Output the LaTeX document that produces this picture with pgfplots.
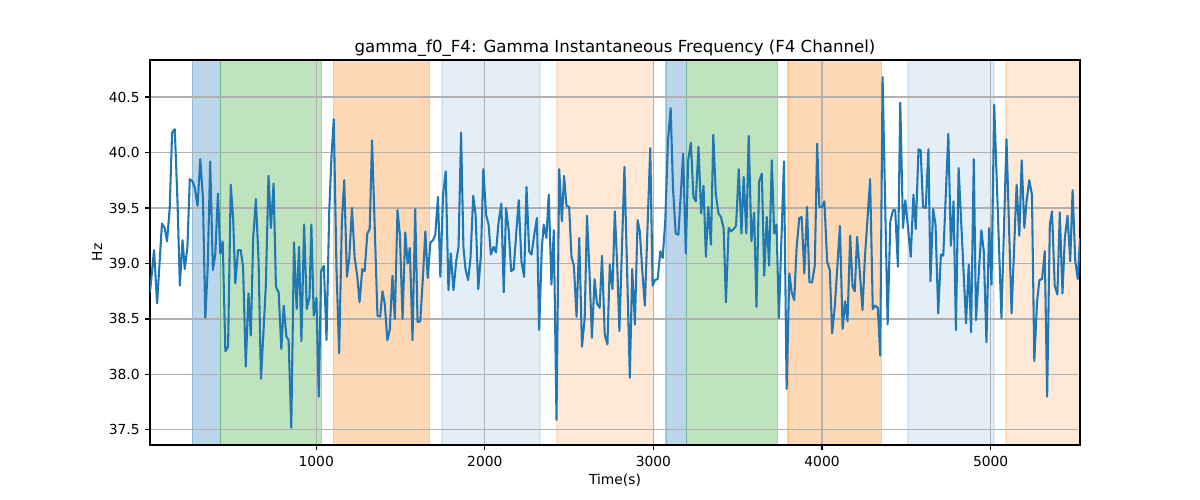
\documentclass[border=0pt]{standalone}
\usepackage{fontspec}
\setmainfont{DejaVu Sans}
\usepackage{pgfplots}
\pgfplotsset{compat=1.18}
\definecolor{tabblue}{HTML}{1F77B4}
\definecolor{taborange}{HTML}{FF7F0E}
\definecolor{tabgreen}{HTML}{2CA02C}
\definecolor{gridgray}{HTML}{B0B0B0}
\begin{document}
\begin{tikzpicture}
\path (0,0) rectangle (12in,5in);
\begin{axis}[
  set layers,
  at={(1.5in,0.55in)}, anchor=south west,
  scale only axis, width=9.3in, height=3.85in,
  xmin=14, xmax=5530, ymin=37.364, ymax=40.834,
  xtick={1000,2000,3000,4000,5000},
  ytick={37.5,38,38.5,39,39.5,40,40.5},
  /pgf/number format/assume math mode=true,
  xticklabel style={/pgf/number format/1000 sep={}, anchor=north, inner sep=0pt, yshift=-4.2pt},
  yticklabel style={/pgf/number format/fixed, /pgf/number format/fixed zerofill, /pgf/number format/precision=1, anchor=east, inner sep=0pt, xshift=-3.8pt},
  xtick pos=bottom, ytick pos=left,
  tick align=outside, major tick length=3.5pt,
  tick style={black, line width=0.8pt},
  axis line style={black, line width=0.8pt},
  grid=major, major grid style={gridgray, line width=0.8pt},
  title={gamma\_f0\_F4: Gamma Instantaneous Frequency (F4 Channel)},
  title style={at={(axis description cs:0.5,1)}, anchor=base, inner sep=0pt, yshift=-0.5pt, font=\fontsize{12}{14.4}\selectfont},
  xlabel={Time(s)},
  xlabel style={at={(axis description cs:0.5,0)}, anchor=north, inner sep=0pt, yshift=-21pt},
  ylabel={Hz},
  ylabel style={at={(axis description cs:0,0.5)}, anchor=center, inner sep=0pt, yshift=38.2pt},
]
% shaded spans
\addplot[on layer=axis background, fill=tabblue, fill opacity=0.3, draw=tabblue, draw opacity=0.3, line width=1pt] coordinates {(264.5,37.364) (430.6,37.364) (430.6,40.834) (264.5,40.834) (264.5,37.364)};
\addplot[on layer=axis background, fill=tabgreen, fill opacity=0.3, draw=tabgreen, draw opacity=0.3, line width=1pt] coordinates {(430.6,37.364) (1032,37.364) (1032,40.834) (430.6,40.834) (430.6,37.364)};
\addplot[on layer=axis background, fill=taborange, fill opacity=0.3, draw=taborange, draw opacity=0.3, line width=1pt] coordinates {(1101,37.364) (1672.6,37.364) (1672.6,40.834) (1101,40.834) (1101,37.364)};
\addplot[on layer=axis background, fill=tabblue, fill opacity=0.12, draw=tabblue, draw opacity=0.12, line width=1pt] coordinates {(1745.5,37.364) (2327,37.364) (2327,40.834) (1745.5,40.834) (1745.5,37.364)};
\addplot[on layer=axis background, fill=taborange, fill opacity=0.17, draw=taborange, draw opacity=0.17, line width=1pt] coordinates {(2427.6,37.364) (3001,37.364) (3001,40.834) (2427.6,40.834) (2427.6,37.364)};
\addplot[on layer=axis background, fill=tabblue, fill opacity=0.3, draw=tabblue, draw opacity=0.3, line width=1pt] coordinates {(3074,37.364) (3197,37.364) (3197,40.834) (3074,40.834) (3074,37.364)};
\addplot[on layer=axis background, fill=tabgreen, fill opacity=0.3, draw=tabgreen, draw opacity=0.3, line width=1pt] coordinates {(3197,37.364) (3737,37.364) (3737,40.834) (3197,40.834) (3197,37.364)};
\addplot[on layer=axis background, fill=taborange, fill opacity=0.3, draw=taborange, draw opacity=0.3, line width=1pt] coordinates {(3798,37.364) (4353.5,37.364) (4353.5,40.834) (3798,40.834) (3798,37.364)};
\addplot[on layer=axis background, fill=tabblue, fill opacity=0.12, draw=tabblue, draw opacity=0.12, line width=1pt] coordinates {(4509.5,37.364) (5019.6,37.364) (5019.6,40.834) (4509.5,40.834) (4509.5,37.364)};
\addplot[on layer=axis background, fill=taborange, fill opacity=0.17, draw=taborange, draw opacity=0.17, line width=1pt] coordinates {(5090.7,37.364) (5530,37.364) (5530,40.834) (5090.7,40.834) (5090.7,37.364)};
% series
\addplot[tabblue, line width=1.5pt, line join=round, mark=none] table {
x y
14 38.74
38 39.12
56 38.64
85 39.36
101 39.32
115 39.20
131 39.50
145 40.18
161 40.21
177 39.56
191 38.80
207 39.21
220 38.95
236 39.15
250 39.76
266 39.74
280 39.68
296 39.52
312 39.94
328 39.59
342 38.51
356 38.95
371 39.92
387 38.94
401 39.08
417 39.63
431 39.09
445 39.20
461 38.21
477 38.25
493 39.71
507 39.41
520 38.82
536 39.12
552 39.12
566 38.97
582 38.07
598 38.73
612 38.35
626 39.23
642 39.58
658 39.02
672 37.96
687 38.38
701 38.80
717 39.79
731 39.32
747 39.72
761 38.79
777 38.74
793 38.23
807 38.62
823 38.34
836 38.31
852 37.52
868 39.19
884 38.59
898 39.15
912 38.30
928 39.35
944 38.59
960 38.70
971 39.35
985 38.53
1001 38.69
1015 37.80
1029 38.93
1045 38.98
1061 38.31
1077 39.47
1091 39.98
1104 40.30
1120 38.95
1136 38.19
1152 39.38
1166 39.75
1182 38.88
1196 39.05
1212 39.50
1228 39.05
1243 38.89
1257 38.65
1273 38.95
1287 38.93
1303 39.27
1317 39.31
1331 40.11
1347 39.32
1363 38.53
1379 38.52
1393 38.75
1406 38.64
1422 38.31
1436 38.40
1452 38.89
1466 38.50
1482 39.48
1496 39.26
1512 38.50
1528 39.28
1542 39.00
1555 39.14
1571 38.31
1587 39.49
1601 38.47
1617 38.48
1631 38.83
1647 39.29
1661 38.87
1677 39.19
1693 39.21
1706 39.26
1722 39.60
1736 38.88
1752 39.62
1768 39.83
1784 38.76
1798 39.09
1814 38.76
1830 39.02
1844 39.15
1859 40.18
1873 39.15
1885 38.95
1901 38.85
1915 39.05
1931 39.61
1945 39.44
1961 38.77
1977 39.08
1991 39.85
2007 39.44
2022 39.35
2036 39.08
2052 39.15
2066 39.10
2082 39.38
2098 39.54
2112 38.74
2126 39.50
2142 39.29
2156 38.93
2171 38.95
2187 39.29
2201 39.57
2217 39.02
2233 38.88
2247 39.69
2263 39.11
2277 39.08
2293 39.26
2309 39.41
2322 38.40
2338 39.14
2349 39.35
2365 39.23
2379 39.62
2395 38.81
2409 39.30
2425 37.59
2441 39.85
2457 39.38
2470 39.79
2484 39.52
2500 39.51
2514 39.06
2528 38.98
2544 38.52
2560 39.23
2576 38.25
2592 38.50
2606 39.43
2621 38.91
2635 38.33
2651 38.86
2665 38.64
2681 38.60
2695 39.07
2711 38.36
2727 38.27
2741 38.99
2757 38.77
2771 39.47
2786 38.95
2798 38.39
2828 39.87
2860 37.97
2874 38.95
2890 38.45
2906 39.39
2919 39.29
2935 38.91
2949 38.62
2981 40.04
2995 38.80
3009 38.85
3025 38.86
3041 39.11
3055 39.05
3070 39.38
3086 40.10
3102 40.40
3116 39.68
3132 39.27
3148 39.26
3162 39.62
3176 39.99
3192 39.09
3206 39.93
3222 40.09
3237 39.60
3251 39.56
3267 40.05
3283 39.45
3297 39.70
3311 39.06
3325 39.51
3341 39.17
3355 40.16
3370 39.62
3386 39.45
3400 39.42
3416 39.32
3430 38.65
3446 39.32
3460 39.29
3476 39.31
3490 39.34
3506 39.85
3522 39.27
3535 39.78
3551 39.27
3565 40.15
3581 39.20
3597 39.46
3611 38.61
3627 39.74
3643 39.81
3657 38.89
3672 39.42
3686 38.98
3702 39.93
3716 39.27
3730 39.35
3744 38.51
3774 39.92
3790 37.87
3806 38.91
3820 38.74
3835 38.67
3849 39.14
3865 39.41
3879 39.42
3895 38.91
3911 39.51
3925 38.83
3941 38.83
3957 38.98
3971 40.08
3984 39.51
4000 39.51
4014 39.56
4030 39.02
4046 38.94
4060 38.37
4076 38.62
4090 38.95
4106 39.34
4122 38.41
4137 38.66
4151 38.48
4167 39.25
4181 38.79
4194 38.75
4208 39.24
4224 38.92
4240 38.58
4254 39.05
4270 39.41
4285 39.76
4301 38.59
4315 38.62
4331 38.60
4345 38.17
4359 40.68
4389 38.45
4405 39.38
4421 39.48
4434 39.48
4450 38.97
4464 40.45
4480 39.32
4494 39.57
4510 39.32
4526 39.06
4542 39.62
4556 39.31
4572 40.03
4585 40.02
4599 39.51
4615 39.50
4631 40.03
4643 38.84
4659 39.49
4673 39.35
4689 38.55
4705 39.08
4719 39.07
4749 40.17
4764 39.16
4780 39.56
4794 38.40
4810 39.86
4854 38.46
4870 38.99
4884 38.38
4900 39.94
4913 38.49
4945 39.30
4959 39.11
4975 38.29
4991 39.32
5005 38.81
5021 40.43
5064 38.51
5094 40.12
5124 38.55
5154 39.71
5170 39.25
5184 39.93
5200 39.32
5213 39.56
5229 39.75
5245 39.62
5259 38.12
5275 38.65
5289 38.85
5305 38.86
5321 39.11
5335 37.80
5351 39.35
5364 39.47
5380 38.80
5396 38.72
5410 39.46
5426 38.73
5440 39.23
5456 39.43
5472 39.02
5486 39.66
5502 39.02
5517 38.86
5530 39.23
};
\end{axis}
\end{tikzpicture}
\end{document}
